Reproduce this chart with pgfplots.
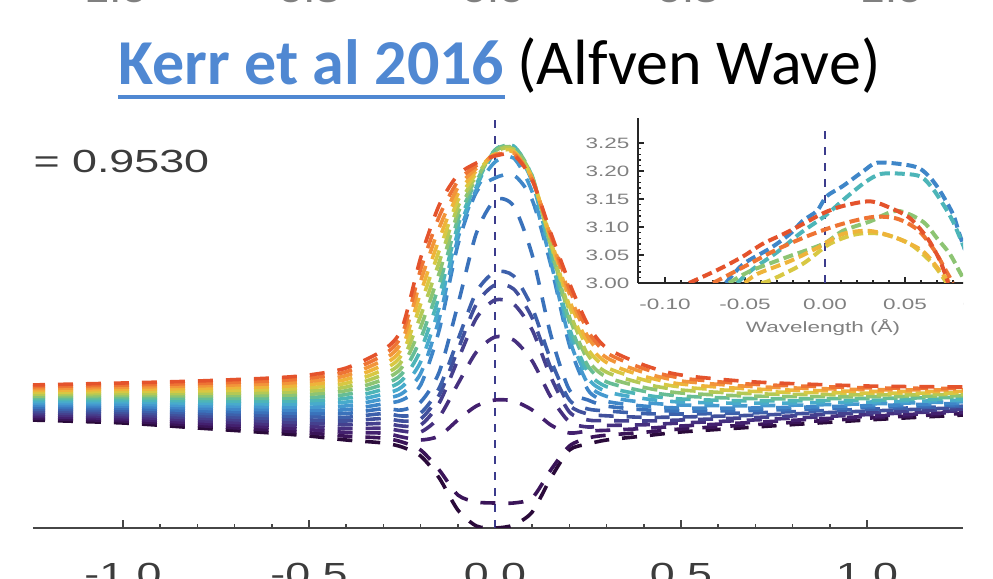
\documentclass[border=0pt]{standalone}
\usepackage{pgfplots}
\pgfplotsset{compat=1.18}
\usepackage{fontspec}
\setmainfont{Liberation Sans}
\newfontfamily\carlito{Carlito}
\definecolor{linkblue}{RGB}{80,136,210}
\definecolor{axisgray}{RGB}{70,70,70}
\definecolor{labelgray}{RGB}{60,60,60}
\definecolor{vnavy}{RGB}{60,60,140}
\definecolor{c0}{HTML}{2A0A3A}
\definecolor{c1}{HTML}{3A1458}
\definecolor{c2}{HTML}{43206E}
\definecolor{c3}{HTML}{46307F}
\definecolor{c4}{HTML}{45408E}
\definecolor{c5}{HTML}{41509C}
\definecolor{c6}{HTML}{3D60AB}
\definecolor{c7}{HTML}{3A72BB}
\definecolor{c8}{HTML}{3F86C8}
\definecolor{c9}{HTML}{4599CF}
\definecolor{c10}{HTML}{48ABCC}
\definecolor{c11}{HTML}{4DB5B8}
\definecolor{c12}{HTML}{66BD96}
\definecolor{c13}{HTML}{8DC473}
\definecolor{c14}{HTML}{B4C955}
\definecolor{c15}{HTML}{D8C843}
\definecolor{c16}{HTML}{EEB43A}
\definecolor{c17}{HTML}{F2953A}
\definecolor{c18}{HTML}{EE7434}
\definecolor{c19}{HTML}{E4532C}
\pgfplotsset{
  mainline/.style={smooth, tension=0.45, line width=1.8pt, dash pattern=on 7.5pt off 6.5pt, no markers},
  insetline/.style={smooth, tension=0.5, line width=2pt, dash pattern=on 5pt off 2.5pt, no markers},
}
\begin{document}
\begin{tikzpicture}
\path[use as bounding box] (0,0) rectangle (496.5pt,289.5pt);
\clip (0,0) rectangle (496.5pt,289.5pt);
% title
\node[anchor=base west, inner sep=0pt, text=linkblue] (k) at (59pt,247pt) {\carlito\fontsize{32}{38}\selectfont\bfseries Kerr et al 2016};
\node[anchor=base west, inner sep=0pt] at ([xshift=6pt]k.base east) {\carlito\fontsize{32}{38}\selectfont (Alfven Wave)};
\draw[linkblue, line width=2pt] ([yshift=-6pt]k.base west) -- ([yshift=-6pt]k.base east);
% cut-off labels of the previous panel
\foreach \x/\t in {54/-1.0, 151/-0.5, 246.5/0.0, 344/0.5, 445.5/1.0}
  \node[anchor=base, inner sep=0pt, xscale=1.4, text=gray] at (\x pt,288.3pt) {\fontsize{16}{19}\selectfont \t};
% main axis
\begin{axis}[at={(16.5pt,25.5pt)}, anchor=south west, scale only axis,
  width=465pt, height=206.5pt,
  xmin=-1.242, xmax=1.258, ymin=0, ymax=413,
  axis x line=bottom, axis y line=none,
  axis line style={-, draw=axisgray, line width=1.2pt},
  xtick={-1,-0.5,0,0.5,1}, xticklabels={-1.0,-0.5,0.0,0.5,1.0},
  minor x tick num=4, tick align=inside,
  major tick length=4pt, minor tick length=2pt,
  tick style={axisgray, line width=0.8pt},
  xticklabel style={anchor=base, yshift=-29pt, xscale=1.4, font=\fontsize{16}{19}\selectfont, text=labelgray},
  clip=true]
\addplot[vnavy, line width=1pt, dash pattern=on 4pt off 4pt] coordinates {(0,0) (0,413)};
\addplot[c0, mainline] coordinates {(-1.25,108) (-1,105) (-0.8,100) (-0.6,95) (-0.5,92) (-0.4,88) (-0.3,85) (-0.25,81) (-0.2,72) (-0.15,50) (-0.1,18) (-0.05,2) (0,0) (0.05,3) (0.1,16) (0.15,50) (0.2,78) (0.25,84) (0.3,88) (0.4,92) (0.5,96) (0.7,101) (1,108) (1.26,113)};
\addplot[c1, mainline] coordinates {(-1.25,109.8) (-1,107.1) (-0.8,102.5) (-0.6,97.9) (-0.5,95.2) (-0.4,91.8) (-0.3,89.9) (-0.25,86) (-0.2,78) (-0.15,58) (-0.1,33) (-0.05,26) (0,25) (0.05,25) (0.1,30) (0.15,58) (0.2,82) (0.25,90) (0.3,92.8) (0.4,95.7) (0.5,99) (0.7,103.4) (1,109.8) (1.26,114.5)};
\addplot[c2, mainline] coordinates {(-1.25,111.7) (-1,109.2) (-0.8,104.9) (-0.6,100.8) (-0.5,98.4) (-0.4,95.6) (-0.3,94.8) (-0.25,91) (-0.2,88) (-0.15,92) (-0.1,108) (-0.05,122) (0,128) (0.05,127) (0.1,118) (0.15,103) (0.2,95) (0.25,97) (0.3,97.7) (0.4,99.5) (0.5,102) (0.7,105.7) (1,111.6) (1.26,115.9)};
\addplot[c3, mainline] coordinates {(-1.25,113.5) (-1,111.3) (-0.8,107.4) (-0.6,103.7) (-0.5,101.6) (-0.4,99.4) (-0.3,99.7) (-0.25,97) (-0.2,96) (-0.15,111) (-0.1,144) (-0.05,176) (0,191) (0.05,188) (0.1,167) (0.15,131) (0.2,106) (0.25,101) (0.3,102.5) (0.4,103.2) (0.5,105) (0.7,108.1) (1,113.4) (1.26,117.4)};
\addplot[c4, mainline] coordinates {(-1.25,115.4) (-1,113.4) (-0.8,109.9) (-0.6,106.6) (-0.5,104.8) (-0.4,103.2) (-0.3,104.6) (-0.25,102) (-0.2,103) (-0.15,125) (-0.1,168) (-0.05,210) (0,228) (0.05,224) (0.1,198) (0.15,151) (0.2,116) (0.25,108) (0.3,107.4) (0.4,107) (0.5,108) (0.7,110.5) (1,115.2) (1.26,118.9)};
\addplot[c5, mainline] coordinates {(-1.25,117.2) (-1,115.5) (-0.8,112.4) (-0.6,109.5) (-0.5,108.1) (-0.4,107) (-0.3,109.5) (-0.25,107) (-0.2,109) (-0.15,133) (-0.1,178) (-0.05,224) (0,243) (0.05,239) (0.1,210) (0.15,160) (0.2,123) (0.25,114) (0.3,112.2) (0.4,110.7) (0.5,111) (0.7,112.8) (1,116.9) (1.26,120.4)};
\addplot[c6, mainline] coordinates {(-1.25,119.1) (-1,117.6) (-0.8,114.8) (-0.6,112.4) (-0.5,111.3) (-0.4,110.7) (-0.3,114.4) (-0.25,112) (-0.2,115) (-0.15,140) (-0.1,188) (-0.05,236) (0,256) (0.05,252) (0.1,220) (0.15,168) (0.2,128) (0.25,119) (0.3,117.1) (0.4,114.4) (0.5,114) (0.7,115.2) (1,118.7) (1.26,121.8)};
\addplot[c7, mainline] coordinates {(-1.25,120.9) (-1,119.7) (-0.8,117.3) (-0.6,115.3) (-0.5,114.5) (-0.4,114.5) (-0.3,119.3) (-0.25,118) (-0.2,126) (-0.15,156) (-0.1,223) (-0.05,295) (0,328) (0.05,322) (0.1,273) (0.15,193) (0.2,138) (0.25,128) (0.3,121.9) (0.4,118.2) (0.5,117) (0.7,117.6) (1,120.5) (1.26,123.3)};
\addplot[c8, mainline] coordinates {(-1.25,122.7) (-1,121.8) (-0.8,119.8) (-0.6,118.2) (-0.5,117.7) (-0.4,118.3) (-0.3,124.2) (-0.25,128) (-0.2,143) (-0.15,198) (-0.1,283) (-0.05,336) (0,350) (0.05,353) (0.1,328) (0.15,263) (0.2,183) (0.25,138) (0.3,126.7) (0.4,121.9) (0.5,120) (0.7,120) (1,122.3) (1.26,124.8)};
\addplot[c9, mainline] coordinates {(-1.25,124.6) (-1,123.9) (-0.8,122.3) (-0.6,121.1) (-0.5,120.9) (-0.4,122.1) (-0.3,129.1) (-0.25,134.5) (-0.2,154.5) (-0.15,209.4) (-0.1,289.4) (-0.05,338.6) (0,366) (0.05,370) (0.1,336) (0.15,266) (0.2,189) (0.25,144) (0.3,131.6) (0.4,125.6) (0.5,123) (0.7,122.3) (1,124.1) (1.26,126.3)};
\addplot[c10, mainline] coordinates {(-1.25,126.4) (-1,126.1) (-0.8,124.7) (-0.6,124) (-0.5,124.1) (-0.4,125.9) (-0.3,133.9) (-0.25,141.1) (-0.2,166.1) (-0.15,220.7) (-0.1,295.7) (-0.05,341.3) (0,376) (0.05,379) (0.1,346) (0.15,273) (0.2,194) (0.25,150) (0.3,136.4) (0.4,129.4) (0.5,126) (0.7,124.7) (1,125.9) (1.26,127.7)};
\addplot[c11, mainline] coordinates {(-1.25,128.3) (-1,128.2) (-0.8,127.2) (-0.6,126.8) (-0.5,127.3) (-0.4,129.7) (-0.3,138.8) (-0.25,147.7) (-0.2,177.7) (-0.15,232.1) (-0.1,302.1) (-0.05,343.9) (0,378) (0.05,382) (0.1,351) (0.15,277) (0.2,200) (0.25,156) (0.3,141.3) (0.4,133.1) (0.5,129) (0.7,127.1) (1,127.7) (1.26,129.2)};
\addplot[c12, mainline] coordinates {(-1.25,130.1) (-1,130.3) (-0.8,129.7) (-0.6,129.7) (-0.5,130.5) (-0.4,133.5) (-0.3,143.7) (-0.25,154.2) (-0.2,189.2) (-0.15,243.5) (-0.1,308.5) (-0.05,346.6) (0,378) (0.05,381) (0.1,352) (0.15,280) (0.2,206) (0.25,162) (0.3,146.1) (0.4,136.8) (0.5,132) (0.7,129.4) (1,129.5) (1.26,130.7)};
\addplot[c13, mainline] coordinates {(-1.25,131.9) (-1,132.4) (-0.8,132.2) (-0.6,132.6) (-0.5,133.7) (-0.4,137.3) (-0.3,148.6) (-0.25,160.8) (-0.2,200.8) (-0.15,254.9) (-0.1,314.8) (-0.05,349.2) (0,377) (0.05,380) (0.1,351) (0.15,282) (0.2,211) (0.25,168) (0.3,150.9) (0.4,140.6) (0.5,135) (0.7,131.8) (1,131.3) (1.26,132.2)};
\addplot[c14, mainline] coordinates {(-1.25,133.8) (-1,134.5) (-0.8,134.6) (-0.6,135.5) (-0.5,136.9) (-0.4,141) (-0.3,153.5) (-0.25,167.2) (-0.2,212.2) (-0.15,266.1) (-0.1,321.2) (-0.05,351.8) (0,376) (0.05,379) (0.1,350) (0.15,284) (0.2,217) (0.25,173) (0.3,155.8) (0.4,144.3) (0.5,138) (0.7,134.2) (1,133.1) (1.26,133.6)};
\addplot[c15, mainline] coordinates {(-1.25,135.6) (-1,136.6) (-0.8,137.1) (-0.6,138.4) (-0.5,140.2) (-0.4,144.8) (-0.3,158.4) (-0.25,173.8) (-0.2,223.8) (-0.15,277.5) (-0.1,327.5) (-0.05,354.4) (0,375) (0.05,377) (0.1,350) (0.15,287) (0.2,222) (0.25,179) (0.3,160.6) (0.4,148.1) (0.5,141) (0.7,136.5) (1,134.8) (1.26,135.1)};
\addplot[c16, mainline] coordinates {(-1.25,137.5) (-1,138.7) (-0.8,139.6) (-0.6,141.3) (-0.5,143.4) (-0.4,148.6) (-0.3,163.3) (-0.25,180.3) (-0.2,235.3) (-0.15,288.9) (-0.1,333.9) (-0.05,357.1) (0,374) (0.05,376) (0.1,349) (0.15,289) (0.2,228) (0.25,185) (0.3,165.5) (0.4,151.8) (0.5,144) (0.7,138.9) (1,136.6) (1.26,136.6)};
\addplot[c17, mainline] coordinates {(-1.25,139.3) (-1,140.8) (-0.8,142.1) (-0.6,144.2) (-0.5,146.6) (-0.4,152.4) (-0.3,168.2) (-0.25,186.9) (-0.2,246.9) (-0.15,300.2) (-0.1,340.3) (-0.05,359.7) (0,373) (0.05,375) (0.1,349) (0.15,291) (0.2,234) (0.25,191) (0.3,170.3) (0.4,155.5) (0.5,147) (0.7,141.3) (1,138.4) (1.26,138.1)};
\addplot[c18, mainline] coordinates {(-1.25,141.2) (-1,142.9) (-0.8,144.5) (-0.6,147.1) (-0.5,149.8) (-0.4,156.2) (-0.3,173.1) (-0.25,193.5) (-0.2,258.5) (-0.15,311.6) (-0.1,346.6) (-0.05,362.4) (0,372.5) (0.05,374) (0.1,348) (0.15,293) (0.2,239) (0.25,197) (0.3,175.2) (0.4,159.3) (0.5,150) (0.7,143.6) (1,140.2) (1.26,139.5)};
\addplot[c19, mainline] coordinates {(-1.25,143) (-1,145) (-0.8,147) (-0.6,150) (-0.5,153) (-0.4,160) (-0.3,178) (-0.25,200) (-0.2,270) (-0.15,323) (-0.1,353) (-0.05,365) (0,372) (0.05,373) (0.1,348) (0.15,295) (0.2,245) (0.25,203) (0.3,180) (0.4,163) (0.5,153) (0.7,146) (1,142) (1.26,141)};
\end{axis}
% annotation
\node[anchor=base west, inner sep=0pt, xscale=1.4, text=labelgray] at (16.5pt,203pt) {\fontsize{16}{19}\selectfont = 0.9530};
% inset
\begin{scope}
\clip (0,0) rectangle (481.5pt,289.5pt);
\begin{axis}[at={(319pt,148pt)}, anchor=south west, scale only axis,
  width=189.5pt, height=82.5pt,
  xmin=-0.1169, xmax=0.12, ymin=3.0, ymax=3.295,
  axis x line=bottom, axis y line=left,
  axis line style={-, draw=black!85, line width=1pt},
  xtick={-0.1,-0.05,0,0.05,0.1}, xticklabels={-0.10,-0.05,0.00,0.05,0.10},
  ytick={3,3.05,3.1,3.15,3.2,3.25}, yticklabels={3.00,3.05,3.10,3.15,3.20,3.25},
  minor x tick num=4, minor y tick num=4, tick align=inside,
  major tick length=3pt, minor tick length=1.5pt,
  tick style={black!85, line width=0.7pt},
  xticklabel style={anchor=base, yshift=-13.5pt, xscale=1.5, font=\fontsize{7.5}{9}\selectfont, text=gray},
  yticklabel style={anchor=east, inner sep=0pt, xshift=-4pt, xscale=1.5, font=\fontsize{7.5}{9}\selectfont, text=gray},
  xlabel={Wavelength (Å)},
  xlabel style={at={(axis description cs:0.488,0)}, anchor=base, yshift=-25pt, xscale=1.5, font=\fontsize{7.5}{9}\selectfont, text=gray},
  clip=true]
\addplot[vnavy, line width=1pt, dash pattern=on 4pt off 4pt] coordinates {(0,3.0) (0,3.286)};
\addplot[c8, insetline] coordinates {(-0.062,3.0) (-0.051,3.034) (-0.034,3.0625) (-0.022,3.0875) (-0.014,3.111) (-0.005,3.129) (0.001,3.155) (0.011,3.173) (0.024,3.20) (0.0325,3.215) (0.049,3.212) (0.059,3.205) (0.066,3.1875) (0.072,3.164) (0.08,3.123) (0.084,3.0875) (0.09,3.04)};
\addplot[c11, insetline] coordinates {(-0.055,3.0) (-0.045,3.025) (-0.03,3.055) (-0.015,3.09) (0,3.12) (0.012,3.15) (0.025,3.18) (0.035,3.195) (0.05,3.195) (0.06,3.19) (0.067,3.17) (0.074,3.14) (0.08,3.11) (0.086,3.07) (0.092,3.03)};
\addplot[c13, insetline] coordinates {(-0.06,3.0) (-0.047,3.021) (-0.025,3.045) (-0.001,3.07) (0.011,3.093) (0.028,3.11) (0.045,3.129) (0.061,3.11) (0.07,3.08) (0.078,3.052) (0.084,3.021) (0.088,3.0)};
\addplot[c15, insetline] coordinates {(-0.04,3.0) (-0.034,3.005) (-0.014,3.034) (0.003,3.07) (0.02,3.0875) (0.036,3.0875) (0.053,3.07) (0.0675,3.034) (0.076,3.0)};
\addplot[c16, insetline] coordinates {(-0.05,3.0) (-0.0425,3.016) (-0.022,3.039) (-0.005,3.0625) (0.011,3.0875) (0.028,3.093) (0.045,3.08) (0.061,3.057) (0.072,3.021) (0.078,3.0)};
\addplot[c18, insetline] coordinates {(-0.07,3.0) (-0.05,3.03) (-0.03,3.06) (-0.01,3.085) (0.01,3.105) (0.03,3.118) (0.045,3.115) (0.058,3.095) (0.068,3.06) (0.075,3.025) (0.08,3.0)};
\addplot[c19, insetline] coordinates {(-0.085,3.0) (-0.066,3.025) (-0.051,3.048) (-0.039,3.07) (-0.026,3.0875) (-0.014,3.105) (-0.001,3.125) (0.011,3.1375) (0.028,3.146) (0.041,3.134) (0.053,3.116) (0.064,3.08) (0.072,3.039) (0.077,3.0)};
\end{axis}
\end{scope}
\end{tikzpicture}
\end{document}
